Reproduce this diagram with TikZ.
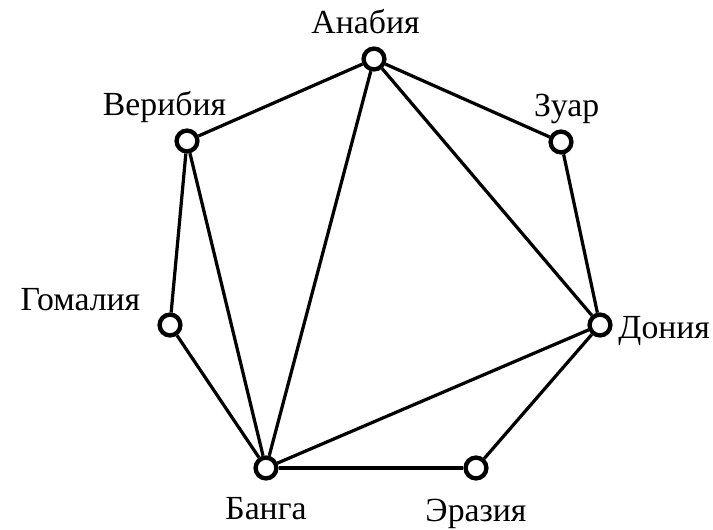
\documentclass[tikz,border=0pt]{standalone}
\usepackage{fontspec}
\setmainfont{Liberation Serif}
\usepackage{tikz}

\begin{document}
\begin{tikzpicture}[
  x=0.025cm, y=-0.025cm,
  town/.style={circle, draw, line width=3.1pt, fill=white, inner sep=0pt, minimum size=0.52cm},
  road/.style={line width=2.3pt},
  every label/.style={font=\fontsize{24}{27}\selectfont, inner sep=1pt},
  label distance=3pt
]
\useasboundingbox (0,0) rectangle (713,529);

\node[town, label={[xshift=-6pt, yshift=5pt]above:Анабия}] (anab) at (374,59) {};
\node[town, label={[xshift=-16pt]above:Верибия}] (ver) at (187,141) {};
\node[town, label={[xshift=4pt]above:Зуар}] (zuar) at (561,142) {};
\node[town, label={[yshift=18pt, xshift=-8pt]left:Гомалия}] (gom) at (170,325) {};
\node[town, label={[yshift=-4pt]right:Дония}] (don) at (600,325) {};
\node[town, label={[yshift=-8pt]below:Банга}] (bang) at (266,468) {};
\node[town, label={[yshift=-9pt]below:Эразия}] (eraz) at (476,468) {};

\draw[road] (anab) -- (ver);
\draw[road] (anab) -- (zuar);
\draw[road] (anab) -- (bang);
\draw[road] (anab) -- (don);
\draw[road] (zuar) -- (don);
\draw[road] (ver) -- (gom);
\draw[road] (ver) -- (bang);
\draw[road] (gom) -- (bang);
\draw[road] (bang) -- (don);
\draw[road] (bang) -- (eraz);
\draw[road] (eraz) -- (don);

\end{tikzpicture}
\end{document}
